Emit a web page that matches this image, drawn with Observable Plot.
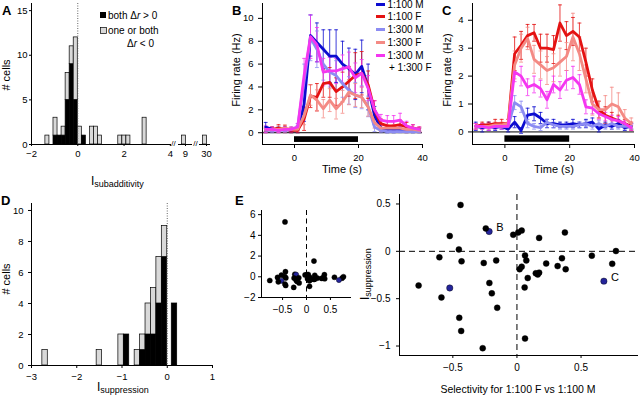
<!DOCTYPE html>
<html><head><meta charset="utf-8">
<script src="https://cdn.jsdelivr.net/npm/d3@7"></script>
<script src="https://cdn.jsdelivr.net/npm/@observablehq/plot@0.6"></script>
<style>
body{margin:0;background:#fff;}
#fig{position:relative;width:640px;height:400px;overflow:hidden;background:#fff;}
</style></head>
<body><div id="fig"></div>
<script>
// ---------- DATA ----------
// Panel A: histogram of I_subadditivity (bin starts, counts)
const aBinWidth = 0.175;
const aBinStart = [-1.4, -1.05, -0.875, -0.7, -0.525, -0.35, -0.175, 0, 0.175, 0.525, 0.7, 0.875, 1.75, 1.925, 2.1, 2.8];
const aBoth     = [0, 1, 1, 1, 5, 9, 5, 0, 1, 0, 0, 0, 0, 0, 0, 0];
const aOther    = [1, 2, 0, 1, 3, 2, 7, 2, 0, 2, 2, 1, 1, 1, 1, 3];
const aBreakStart = [8.85, 29.85];
const aBreakOther = [1, 1];
const aBreakTicks = [9, 30];

// Panel D: histogram of I_suppression
const dBinWidth = 0.12;
const dBinStart = [-2.76, -1.56, -1.08, -0.96, -0.72, -0.60, -0.48, -0.36, -0.24, -0.12, 0.10];
const dBoth     = [0, 0, 0, 2, 0, 1, 2, 2, 4, 7, 4];
const dOther    = [1, 1, 2, 0, 1, 1, 2, 3, 3, 2, 0];

// Panels B, C: firing rate time courses
const times = [-9,-7,-5,-3,-1,1,3,5,7,9,11,13,15,17,19,21,23,25,27,29,31,33,35,37,39];
const seriesNames  = ["1:100 M", "1:100 F", "1:300 M", "1:300 F", "1:300 M + 1:300 F"];
const seriesColors = ["#0c0cd0", "#e41212", "#8c8cf2", "#f48a84", "#f436f0"];
const stimOn = 0, stimOff = 20;

const b100M  = [0.5,0.3,0.3,0.3,0.2, 0.3,2.5,8.5,7.9,7.3,6.7,6.7,6.0,5.6,5.1,5.8,4.0,1.5,0.4,0.3,0.3,0.3,0.2,0.2,0.2];
const b100Me = [0.4,0.2,0.2,0.2,0.2, 0.3,1.5,1.8,1.7,1.7,2.3,2.3,2.0,1.8,2.2,2.3,2.0,0.8,0.3,0.3,0.3,0.2,0.2,0.2,0.2];
const b100F  = [0.2,0.3,0.4,0.3,0.2, 0.2,1.2,3.2,3.1,4.3,4.4,3.6,4.0,4.5,5.0,5.2,4.2,2.0,0.8,0.6,0.6,0.7,0.5,0.4,0.3];
const b100Fe = [0.2,0.2,0.3,0.3,0.2, 0.2,1.0,1.0,1.2,1.2,1.3,1.2,1.3,1.3,2.0,1.9,1.2,0.8,0.4,0.4,0.4,0.4,0.4,0.3,0.2];
const b300M  = [0.2,0.2,0.2,0.2,0.3, 0.5,4.5,8.3,7.3,6.0,5.3,5.0,4.3,3.7,3.3,3.1,2.3,0.5,0.2,0.1,0.1,0.1,0.1,0.1,0.1];
const b300Me = [0.2,0.2,0.2,0.2,0.2, 0.3,1.5,2.0,1.6,1.4,1.3,1.3,1.2,1.2,1.1,1.0,0.9,0.4,0.2,0.1,0.1,0.1,0.1,0.1,0.1];
const b300F  = [0.3,0.3,0.3,0.4,0.3, 0.3,1.5,3.3,2.85,2.1,2.85,2.1,2.7,3.55,3.3,3.1,2.25,0.9,0.4,0.4,0.4,0.4,0.3,0.3,0.2];
const b300Fe = [0.2,0.2,0.3,0.3,0.2, 0.2,0.8,0.9,0.9,0.8,1.0,0.9,1.0,1.1,1.0,0.9,0.8,0.5,0.3,0.3,0.3,0.3,0.3,0.2,0.2];
const bMix   = [0.3,0.3,0.2,0.3,0.3, 0.5,5.0,8.4,7.7,5.3,5.4,5.4,5.6,5.75,4.8,5.2,3.9,2.0,1.1,1.0,1.0,1.1,0.6,0.4,0.3];
const bMixe  = [0.3,0.2,0.2,0.2,0.2, 0.3,1.5,1.9,1.5,1.2,1.2,1.1,1.2,1.3,1.3,1.2,1.1,0.8,0.5,0.5,0.5,0.6,0.4,0.3,0.2];

const c100M  = [0.2,0.15,0.2,0.15,0.2, 0.1,0.35,0.05,0.6,0.65,0.5,0.3,0.3,0.25,0.25,0.3,0.25,0.3,0.35,0.1,0.25,0.2,0.3,0.15,0.2];
const c100Me = [0.15,0.15,0.15,0.1,0.1, 0.1,0.2,0.1,0.25,0.25,0.2,0.15,0.15,0.1,0.1,0.15,0.1,0.15,0.15,0.1,0.1,0.1,0.15,0.1,0.1];
const c100F  = [0.2,0.25,0.25,0.3,0.3, 0.3,2.8,3.1,3.45,3.55,3.0,3.0,2.95,3.9,3.45,3.6,3.4,2.5,1.5,0.8,0.6,0.5,0.4,0.3,0.2];
const c100Fe = [0.1,0.1,0.1,0.15,0.15, 0.15,0.6,0.5,0.4,0.3,0.5,0.5,0.5,0.65,0.5,0.5,0.5,0.5,0.4,0.3,0.3,0.2,0.2,0.15,0.15];
const c300M  = [0.2,0.2,0.2,0.2,0.2, 0.2,1.05,0.9,0.3,0.2,0.15,0.35,0.25,0.2,0.2,0.2,0.25,0.3,0.2,0.3,0.2,0.3,0.2,0.2,0.2];
const c300Me = [0.1,0.1,0.1,0.1,0.1, 0.1,0.25,0.2,0.15,0.1,0.1,0.1,0.1,0.1,0.1,0.1,0.1,0.1,0.1,0.1,0.1,0.1,0.1,0.1,0.1];
const c300F  = [0.2,0.2,0.2,0.25,0.25, 0.3,2.4,3.0,3.35,2.6,2.4,2.2,2.3,2.5,2.7,3.4,2.8,1.9,1.0,0.8,0.8,1.0,0.9,0.5,0.3];
const c300Fe = [0.1,0.1,0.1,0.1,0.1, 0.15,0.5,0.5,0.4,0.5,0.5,0.5,0.5,0.5,0.5,0.85,0.6,0.5,0.4,0.3,0.5,0.6,0.5,0.3,0.2];
const cMix   = [0.2,0.2,0.15,0.2,0.2, 0.2,2.15,2.0,1.6,1.7,1.55,1.15,1.7,1.5,1.85,1.95,1.7,0.9,0.85,0.65,0.55,0.45,0.4,0.3,0.15];
const cMixe  = [0.1,0.1,0.1,0.1,0.1, 0.1,0.35,0.35,0.3,0.3,0.3,0.3,0.3,0.3,0.35,0.4,0.35,0.25,0.2,0.2,0.15,0.15,0.15,0.1,0.1];

// Panel E: selectivity vs I_suppression
const eSel = [-0.44,-0.243,-0.217,-0.524,-0.029,0.010,0.037,0.173,0.374,-0.453,-0.605,-0.432,-0.259,-0.162,0.063,0.073,0.037,0.021,0.147,0.162,0.173,0.228,0.317,0.351,0.380,0.584,0.772,0.743,0.678,-0.767,-0.524,-0.589,-0.215,-0.196,0.084,0.060,-0.154,-0.450,-0.435,-0.267,0.063,-0.449,0.156];
const eSup = [0.49,0.242,0.209,0.162,0.175,0.199,0.219,0.142,0.199,0.02,-0.063,-0.106,-0.123,-0.096,-0.043,-0.096,-0.162,-0.189,-0.232,-0.245,-0.225,-0.129,-0.156,-0.073,-0.189,-0.046,0.003,-0.132,-0.315,-0.361,-0.387,-0.487,-0.334,-0.444,-0.282,-0.381,-0.596,-0.702,-0.841,-1.023,-0.921,5.3,1.52];
const eHighlight = [2, 28, 30];
const eLabelIdx  = [2, 28];
const eLabelText = ["B", "C"];

// ---------- HELPERS ----------
const FONT = '"Liberation Sans", Arial, Helvetica, sans-serif';
const fig = document.getElementById("fig");
const fmt = d => (d < 0 ? "\u2212" : "") + Math.abs(d);

function base(w, h, ml, mr, mt, mb, fs = "9.5px") {
  return {width: w, height: h, marginLeft: ml, marginRight: mr, marginTop: mt, marginBottom: mb,
    style: {fontFamily: FONT, fontSize: fs, background: "transparent", overflow: "visible", color: "#000"}};
}
function place(svg, left, top) {
  svg.style.position = "absolute";
  svg.style.left = left + "px";
  svg.style.top = top + "px";
  svg.style.maxWidth = "none";
  fig.appendChild(svg);
}
function histRows(starts, both, other, w) {
  const rows = [];
  starts.forEach((s, i) => {
    if (both[i] > 0) rows.push({x1: s, x2: s + w, y1: 0, y2: both[i], kind: "both"});
    if (other[i] > 0) rows.push({x1: s, x2: s + w, y1: both[i], y2: both[i] + other[i], kind: "other"});
  });
  return rows;
}
const histMark = rows => Plot.rect(rows, {x1: "x1", x2: "x2", y1: "y1", y2: "y2",
  fill: d => d.kind === "both" ? "#000" : "#d9d9d9", stroke: "#000", strokeWidth: 0.7});

// ---------- PANEL A ----------
const aY = [0, 15.8];
place(Plot.plot({
  ...base(172, 185, 31, 1, 3, 41),
  x: {domain: [-2, 4.05], ticks: [-2, 0, 2, 4], tickFormat: fmt, tickSize: 2, tickPadding: 4, label: null},
  y: {domain: aY, ticks: [0, 5, 10, 15], tickFormat: fmt, tickSize: 2, tickPadding: 2, label: null},
  marks: [
    histMark(histRows(aBinStart, aBoth, aOther, aBinWidth)),
    Plot.ruleX([0], {stroke: "#555", strokeDasharray: "1,1.5", strokeWidth: 0.9}),
    Plot.ruleY([0], {stroke: "#000"}),
    Plot.ruleX([-2], {stroke: "#000"})
  ]
}), 0, 0);
// broken-axis segments
[[170, 30, 8, 8, [8.7, 9.3]], [195, 20, 4, 5, [29.7, 30.17]]].forEach(([left, w, ml, mr, dom], k) => {
  place(Plot.plot({
    ...base(w, 185, ml, mr, 3, 41),
    x: {domain: dom, ticks: [aBreakTicks[k]], tickFormat: fmt, tickSize: 2, tickPadding: 4, label: null},
    y: {domain: aY, axis: null},
    marks: [
      histMark(histRows([aBreakStart[k]], [0], [aBreakOther[k]], aBinWidth)),
      Plot.ruleY([0], {stroke: "#000"})
    ]
  }), left, 0);
});

// ---------- PANEL D ----------
place(Plot.plot({
  ...base(215, 200, 31, 3, 3, 35),
  x: {domain: [-3, 1], ticks: [-3, -2, -1, 0, 1], tickFormat: fmt, tickSize: 3, tickPadding: 5, label: null},
  y: {domain: [0, 10.45], ticks: [0, 2, 4, 6, 8, 10], tickFormat: fmt, tickSize: 3, tickPadding: 5, label: null},
  marks: [
    histMark(histRows(dBinStart, dBoth, dOther, dBinWidth)),
    Plot.ruleX([0], {stroke: "#555", strokeDasharray: "1,1.5", strokeWidth: 0.9}),
    Plot.ruleY([0], {stroke: "#000"}),
    Plot.ruleX([-3], {stroke: "#000"})
  ]
}), 0, 200);

// ---------- PANELS B, C ----------
function tracePlot(rates, errs, yDomain, yTicks, stimY, left, mr, ypad) {
  const rows = [];
  rates.forEach((arr, i) => arr.forEach((v, j) => rows.push({t: times[j], v, e: errs[i][j], i})));
  const col = d => seriesColors[d.i];
  const svg = Plot.plot({
    ...base(190, 185, 22, mr, 3, 41),
    x: {domain: [-10, 40], ticks: [0, 20, 40], tickSize: 4, tickPadding: 6, label: null},
    y: {domain: yDomain, ticks: yTicks, tickFormat: fmt, tickSize: 4, tickPadding: ypad, label: null},
    marks: [
      Plot.ruleY([0], {stroke: "#000", strokeWidth: 1}),
      Plot.rect([{x1: stimOn, x2: stimOff, y1: stimY[0], y2: stimY[1]}], {x1: "x1", x2: "x2", y1: "y1", y2: "y2", fill: "#000"}),
      Plot.ruleX(rows, {x: "t", y1: d => d.v - d.e, y2: d => d.v + d.e, stroke: col, strokeWidth: 1, strokeOpacity: 0.8}),
      Plot.link(rows, {x1: d => d.t - 0.6, x2: d => d.t + 0.6, y1: d => d.v + d.e, y2: d => d.v + d.e, stroke: col, strokeWidth: 1, strokeOpacity: 0.8}),
      Plot.link(rows, {x1: d => d.t - 0.6, x2: d => d.t + 0.6, y1: d => d.v - d.e, y2: d => d.v - d.e, stroke: col, strokeWidth: 1, strokeOpacity: 0.8}),
      ...seriesNames.map((_, i) => Plot.line(rows.filter(d => d.i === i), {x: "t", y: "v", stroke: seriesColors[i], strokeWidth: 2.8, strokeLinejoin: "round"})),
      Plot.ruleX([-10], {stroke: "#000"}),
      Plot.ruleY([yDomain[0]], {stroke: "#000"})
    ]
  });
  place(svg, left, 0);
}
tracePlot([b100M, b100F, b300M, b300F, bMix], [b100Me, b100Fe, b300Me, b300Fe, bMixe],
  [-1.03, 11.3], [0, 2, 4, 6, 8, 10], [-0.35, -0.85], 240, 8, 5);
tracePlot([c100M, c100F, c300M, c300F, cMix], [c100Me, c100Fe, c300Me, c300Fe, cMixe],
  [-0.45, 4.6], [0, 1, 2, 3, 4], [-0.14, -0.37], 450, 6, 5);

// ---------- PANEL E ----------
const ePts = eSel.map((x, i) => ({x, y: eSup[i], hi: eHighlight.includes(i)}));
const eLab = eLabelIdx.map((idx, k) => ({x: eSel[idx], y: eSup[idx], text: eLabelText[k]}));
// inset (full range)
place(Plot.plot({
  ...base(125, 115, 26, 9, 10, 18, "10px"),
  x: {domain: [-0.94, 0.94], ticks: [-0.5, 0, 0.5], tickFormat: fmt, tickSize: 3, tickPadding: 5, label: null},
  y: {domain: [-2, 6.4], ticks: [-2, 0, 2, 4, 6], tickFormat: fmt, tickSize: 3, tickPadding: 3, label: null},
  marks: [
    Plot.ruleX([0], {stroke: "#000", strokeDasharray: "5,3.5"}),
    Plot.dot(ePts, {x: "x", y: "y", r: 2.6, fill: d => d.hi ? "#24249a" : "#000", stroke: "#000", strokeWidth: 0.4}),
    Plot.ruleX([-0.94], {stroke: "#000"}),
    Plot.ruleY([-2], {stroke: "#000"})
  ]
}), 235, 200);
// main (zoomed)
place(Plot.plot({
  ...base(280, 210, 39, 2, 4, 45, "10px"),
  x: {domain: [-0.916, 0.948], ticks: [-0.5, 0, 0.5], tickFormat: fmt, tickSize: 3, tickPadding: 5, label: null},
  y: {domain: [-1.1, 0.6], ticks: [-1, -0.5, 0, 0.5], tickFormat: fmt, tickSize: 3, tickPadding: 6, label: null},
  marks: [
    Plot.ruleX([0], {stroke: "#000", strokeDasharray: "6,4"}),
    Plot.ruleY([0], {stroke: "#000", strokeDasharray: "6,4"}),
    Plot.dot(ePts, {x: "x", y: "y", r: d => d.hi ? 3.6 : 3.2, fill: d => d.hi ? "#24249a" : "#000", stroke: "#000", strokeWidth: 0.4, clip: true}),
    Plot.text(eLab, {x: "x", y: "y", text: "text", dx: 7, dy: -4, textAnchor: "start", fontSize: 11, fill: "#000"}),
    Plot.ruleX([-0.916], {stroke: "#000"}),
    Plot.ruleY([-1.1], {stroke: "#000"})
  ]
}), 360, 190);

// ---------- TEXT OVERLAY (labels, legends) ----------
const ov = d3.create("svg").attr("width", 640).attr("height", 400)
  .style("position", "absolute").style("left", "0px").style("top", "0px")
  .style("font-family", FONT).style("pointer-events", "none");
function txt(x, y, s, o = {}) {
  const t = ov.append("text").attr("x", x).attr("y", y).attr("font-size", o.size || 11)
    .attr("text-anchor", o.anchor || "start").attr("fill", "#000");
  if (o.bold) t.attr("font-weight", "bold");
  if (o.rot) t.attr("transform", `rotate(-90 ${x} ${y})`);
  if (o.parts) o.parts.forEach(p => { const ts = t.append("tspan").text(p.t);
    if (p.it) ts.attr("font-style", "italic"); if (p.size) ts.attr("font-size", p.size); if (p.dy) ts.attr("dy", p.dy); });
  else t.text(s);
  return t;
}
// panel letters
txt(2, 15, "A", {bold: true, size: 13});
txt(232, 15, "B", {bold: true, size: 13});
txt(442, 15, "C", {bold: true, size: 13});
txt(1, 205, "D", {bold: true, size: 13});
txt(235, 205, "E", {bold: true, size: 13});
// axis titles
txt(10, 75, "# cells", {rot: true, anchor: "middle"});
txt(10, 279, "# cells", {rot: true, anchor: "middle"});
txt(240, 70, "Firing rate (Hz)", {rot: true, anchor: "middle"});
txt(451, 70, "Firing rate (Hz)", {rot: true, anchor: "middle"});
txt(342, 173, "Time (s)", {anchor: "middle"});
txt(554, 173, "Time (s)", {anchor: "middle"});
txt(91, 185, null, {parts: [{t: "I", size: 12}, {t: "subadditivity", size: 9, dy: 2}]});
txt(97, 391, null, {parts: [{t: "I", size: 12}, {t: "suppression", size: 9, dy: 2}]});
txt(369, 300, null, {rot: true, parts: [{t: "I", size: 12}, {t: "suppression", size: 9, dy: 2}]});
txt(518, 393, "Selectivity for 1:100 F vs 1:100 M", {anchor: "middle", size: 10.5});
// broken axis marks
txt(173.5, 145.5, "//", {anchor: "middle", size: 8});
txt(195.5, 145.5, "//", {anchor: "middle", size: 8});
// legend A
ov.append("rect").attr("x", 100).attr("y", 12).attr("width", 6).attr("height", 6).attr("fill", "#000");
ov.append("rect").attr("x", 100.5).attr("y", 27.5).attr("width", 6).attr("height", 6).attr("fill", "#d9d9d9").attr("stroke", "#000").attr("stroke-width", 0.7);
txt(108, 19, null, {size: 10, parts: [{t: "both \u0394"}, {t: "r", it: true}, {t: " > 0"}]});
txt(108, 34, "one or both", {size: 10});
txt(127, 47, null, {size: 10, parts: [{t: "\u0394"}, {t: "r", it: true}, {t: " < 0"}]});
// legend B
const legY = [4.5, 16.5, 29.5, 42.5, 55.5];
seriesNames.forEach((name, i) => {
  ov.append("line").attr("x1", 376).attr("x2", 385).attr("y1", legY[i]).attr("y2", legY[i])
    .attr("stroke", seriesColors[i]).attr("stroke-width", 3);
  const parts = name.split(" + ");
  txt(387.5, legY[i] + 3.5, parts[0], {size: 10});
  if (parts[1]) txt(389, legY[i] + 15.5, "+ " + parts[1], {size: 10});
});
fig.appendChild(ov.node());
</script>
</body></html>
